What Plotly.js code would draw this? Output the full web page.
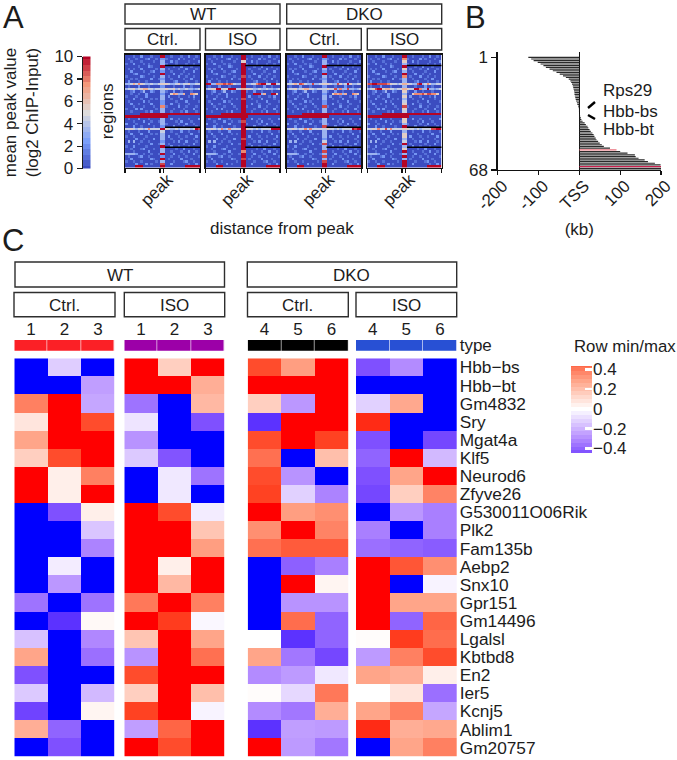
<!DOCTYPE html>
<html><head><meta charset="utf-8">
<script src="https://cdn.plot.ly/plotly-3.0.1.min.js"></script>
<style>html,body{margin:0;padding:0;background:#fff}</style></head>
<body><div id="chart" style="width:677px;height:760px"></div>
<script>
// ---------- Panel A data (digit 0-9 = mean peak value level) ----------
const regionsBase = [
"000100200010003300100010020010","010010001200103310000201000100","001000100001003300201000010002",
"100200010100003310001000100100","000001000210003300010020001000","010100200000103301000100200010",
"002000010012003300100001000200","000120000100003300020010010000","100000210001003301000200100100",
"001010000020013300100001002000","020001001000003300012000100010","000000000000000000000000000000",
"010002000100003300010002001000","000000000000000000000000000000","001200130021003310020010001000",
"000000000000000000000000000000","100010002000003302000100010200","000200100010103300100020000100",
"010000020100003300001000200001","002001000020003300200100010000","000100010001003310000200100010",
"100020200000103300010001000200","001000001020003300100010200010","000000999999999999999999999999",
"999999999999999990000000000000","010002000100003300200100010002","000100020010013300001020001000",
"200010000200003310000100200100","000200100001003300020001000010","000000000000000000000000000000",
"010001000200003300100020010001","002000200010103300001000002000","100100001000003302000100100020",
"000020010002003300100010000100","030300100100003300010200200010","000001000020013301000001000200",
"100200001000003300200100010000","001000120001003300001002000100","000100000200003300100010020010",
"333320010010013300020001000200","010001200100003300100100100001","002000000021003301000020001000",
"100100100000103300010001200100","000020002010003300200000010020","000099900000009900000000999999"];
const wtCtrlCenter  = "923393293235243233227339933329433323933929389";
const wtIsoCenter   = "995999998999969998999999998999999899997998999";
const dkoCtrlCenter = "923393293235243233228339933384333248338383899";
const dkoIsoCenter  = "975395397336365353458549955395355349359393999";
const wtCtrlRows  = {11:"334647543343344454334534453344",13:"344534566443444554453433433234",15:"001001002000004400576336007650",29:"445434434744444454334344443498"};
const wtIsoRows   = {11:"993377787874339933447899449944",13:"345599455999444455433433433234",15:"001001002000009900099936009950",29:"445434734744444454434344449999"};
const dkoCtrlRows = {11:"445648743383344454338534953344",13:"344534566443444554483733833234",15:"001001002000004400576736007650",29:"445434474744444454434344449899"};
const dkoIsoRows  = {11:"889988887544344454338934753344",13:"345899566443444554499733933234",15:"001001002000005500577786887750",29:"445474484744444454434344448899"};
const blackLineRows = [3.7, 28.4, 36.4];
const colorbarLevels = [0,0.5,1,1.5,2,2.5,3,3.5,4,4.5,5,5.5,6,6.5,7,7.5,8,8.5,9,9.5,10];

// ---------- Panel B data ----------
const rankLabels = ["1","68"];
const tssOffsets = [-125,-118,-112,-102,-95,-88,-82,-73,-65,-56,-48,-40,-33,-26,-22,-20,-18,-16,-15,-14,-13,-12,-12,-11,-10,-9,-8,-6,-5,-3,-2,-1,-1,-0.5,1,2,4,5,8,13,16,20,22,25,28,32,35,37,40,42,46,50,55,60,75,91,100,118,136,138,145,160,168,185,199,200,200,200];
const highlightRanks = {56:"#e9707c",66:"#c9204e"};
const distTicks = [-200,-100,0,100,200];
const distLabels = ["-200","-100","TSS","100","200"];

// ---------- Panel C data ----------
const genes = ["Hbb−bs","Hbb−bt","Gm4832","Sry","Mgat4a","Klf5","Neurod6","Zfyve26","G530011O06Rik","Plk2","Fam135b","Aebp2","Snx10","Gpr151","Gm14496","Lgalsl","Kbtbd8","En2","Ier5","Kcnj5","Ablim1","Gm20757"];
const wtCtrl = [[-.6,-.13,-.6],[-.6,-.6,-.25],[.38,.6,-.23],[.08,.6,.5],[.28,.6,.6],[.15,.5,.6],[.6,.05,.38],[.6,.05,.6],[-.6,-.45,.05],[-.6,-.6,-.15],[-.6,-.6,-.32],[-.6,-.05,-.6],[-.6,-.27,-.6],[-.36,-.6,-.36],[-.6,-.52,.02],[-.16,-.6,-.31],[.28,-.6,-.37],[-.45,-.6,-.6],[-.14,-.6,-.18],[-.48,-.6,.03],[.25,-.4,-.6],[-.6,-.45,-.6]];
const wtIso = [[.6,.15,.6],[.6,.6,.25],[-.36,-.6,.22],[-.07,-.6,-.45],[-.28,-.6,-.6],[-.14,-.44,-.6],[-.6,-.06,-.36],[-.6,-.06,-.6],[.6,.5,-.05],[.6,.6,.18],[.6,.6,.3],[.6,.05,.6],[.6,.22,.6],[.4,.6,.38],[.6,.53,-.02],[.18,.6,.28],[-.28,.6,.42],[.5,.6,.6],[.15,.6,.2],[.52,.6,-.03],[-.25,.45,.6],[.6,.5,.6]];
const dkoCtrl = [[.5,.3,.6],[.6,.6,.6],[.15,-.27,.6],[-.52,.6,.6],[.5,.6,.52],[.42,-.6,.2],[.5,-.28,-.6],[.52,-.12,-.32],[.6,.3,.34],[.34,.6,.37],[.42,.47,.47],[-.6,-.41,-.33],[-.6,.6,.03],[-.6,-.28,-.28],[-.6,.43,-.4],[0,-.52,-.4],[.28,-.35,-.47],[-.3,-.26,-.06],[.01,-.1,.4],[-.3,-.35,.25],[-.52,-.25,-.26],[.6,-.26,-.35]];
const dkoIso = [[-.45,-.3,-.6],[-.6,-.6,-.6],[-.12,.27,-.6],[.55,-.6,-.6],[-.45,-.6,-.47],[-.4,.6,-.18],[-.45,.28,.6],[-.47,.15,.37],[-.6,-.27,-.33],[-.33,-.6,-.33],[-.37,-.4,-.42],[.6,.48,.34],[.6,-.6,-.03],[.6,.28,.28],[.6,-.4,.45],[.01,.53,.43],[-.26,.38,.5],[.28,.25,.05],[0,.08,-.37],[.28,.38,-.23],[.55,.25,.27],[-.6,.28,.38]];
const wtSamples = ["1","2","3"];
const dkoSamples = ["4","5","6"];
const typeColors = ["#fb2026","#9c00a8","#000000","#2850d4"];
const legendLevels = [-.44,-.4,-.36,-.32,-.28,-.24,-.2,-.16,-.12,-.08,-.04,0,.04,.08,.12,.16,.2,.24,.28,.32,.36,.4,.44];
const legendTicks = [-.4,-.2,0,.2,.4];
const legendLabels = ["−0.4","−0.2","0","0.2","0.4"];

// ---------- helpers ----------
const W = 677, H = 760, FONT = '"Liberation Sans", Arial, sans-serif', INK = "#1c1c1c";
const coolwarm = [[0,"#3b4cc0"],[.25,"#7b9ff9"],[.5,"#dddcdc"],[.75,"#f4987a"],[1,"#b40426"]];
const bwr = [[0,"#0000ff"],[.0625,"#5a30ff"],[.125,"#7f50ff"],[.25,"#b38bff"],[.375,"#dac5ff"],[.5,"#ffffff"],[.625,"#ffcfc0"],[.75,"#ff9e81"],[.875,"#ff6545"],[.9375,"#ff4020"],[1,"#ff0000"]];
const layout = {width:W,height:H,margin:{l:0,r:0,t:0,b:0},paper_bgcolor:"#fff",plot_bgcolor:"#fff",showlegend:false,
  font:{family:FONT,size:17,color:INK},shapes:[],annotations:[]};
const traces = [];
let axN = 0;
function axes(x0,x1,y0,y1,xo,yo){
  axN++; const s = axN===1?"":axN;
  layout["xaxis"+s] = Object.assign({domain:[x0/W,x1/W],anchor:"y"+s,showgrid:false,zeroline:false,showticklabels:false,ticks:"",fixedrange:true},xo);
  layout["yaxis"+s] = Object.assign({domain:[1-y1/H,1-y0/H],anchor:"x"+s,showgrid:false,zeroline:false,showticklabels:false,ticks:"",fixedrange:true},yo);
  return {xaxis:"x"+s,yaxis:"y"+s};
}
function note(text,x,y,size,extra){
  layout.annotations.push(Object.assign({text,x:x/W,y:1-y/H,xref:"paper",yref:"paper",showarrow:false,xanchor:"center",yanchor:"middle",font:{size:size||17,color:INK}},extra||{}));
}
function strip(text,x0,x1,y0,y1){
  layout.shapes.push({type:"rect",xref:"paper",yref:"paper",x0:x0/W,x1:x1/W,y0:1-y0/H,y1:1-y1/H,line:{color:"#2e2e2e",width:1.4},fillcolor:"#fff"});
  note(text,(x0+x1)/2,(y0+y1)/2+0.5,17);
}

// ---------- Panel A ----------
note("A",13,17,31); note("B",475,17,31); note("C",13,240,31);
strip("WT",125,280,4,24); strip("DKO",286.7,441.7,4,24);
[["Ctrl.",125,200],["ISO",205.5,280],["Ctrl.",286.7,361.3],["ISO",367.3,441.7]].forEach(s=>strip(s[0],s[1],s[2],28.5,50));
const cb = axes(82.7,90.7,56.5,168.5,{range:[-.5,.5]},{range:[0,10],tickvals:[0,2,4,6,8,10],showticklabels:true,ticks:"outside",ticklen:5,tickwidth:1.2,tickcolor:INK,showline:true,linecolor:INK,linewidth:1,
  title:{text:"mean peak value<br>(log2 ChIP-Input)",standoff:11,font:{size:17}}});
traces.push(Object.assign({type:"heatmap",z:colorbarLevels.map(v=>[v]),y:colorbarLevels,x:[0],colorscale:coolwarm,zmin:0,zmax:10,showscale:false,hoverinfo:"skip"},cb));

const aPanels = [[125,200,wtCtrlCenter,wtCtrlRows],[205.5,280,wtIsoCenter,wtIsoRows],[286.7,361.3,dkoCtrlCenter,dkoCtrlRows],[367.3,441.7,dkoIsoCenter,dkoIsoRows]];
aPanels.forEach((p,i)=>{
  const z = regionsBase.map((row,r)=>{
    const src = p[3][r] || row;
    return src.split("").map((ch,c)=>{
      const d = (c===14||c===15) ? +p[2][r] : +ch;
      return d*10/9;
    });
  });
  const yo = {range:[44.5,-.5],showline:true,mirror:true,linecolor:"#111",linewidth:1.4};
  if(i===0) yo.title = {text:"regions",standoff:5,font:{size:17}};
  const a = axes(p[0],p[1],55,167.5,
    {range:[-.5,29.5],showline:true,mirror:true,linecolor:"#111",linewidth:1.6,ticks:"outside",ticklen:4,tickwidth:1.2,tickcolor:"#111",
     tickvals:[-.5,13.5,15,29.5],ticktext:["","","peak",""],showticklabels:true,tickangle:-45,ticklabelshift:4,tickfont:{size:17},ticklabelstandoff:-10},yo);
  traces.push(Object.assign({type:"heatmap",z,colorscale:coolwarm,zmin:0,zmax:10,showscale:false,hoverinfo:"skip"},a));
  blackLineRows.forEach(r=>traces.push(Object.assign({type:"scatter",mode:"lines",x:[15.5,29.5],y:[r,r],line:{color:"#000",width:1.6},hoverinfo:"skip"},a)));
});
note("distance from peak",282,228,17);

// ---------- Panel B ----------
const ranks = tssOffsets.map((_,i)=>i+1);
const b = axes(497.7,661,52,170,
  {range:[-200,200],tickvals:distTicks,ticktext:distLabels,showticklabels:true,ticks:"outside",ticklen:4,tickwidth:1.2,tickcolor:"#111",showline:true,linecolor:"#111",linewidth:1.3,
   tickangle:-45,ticklabelshift:5,ticklabelstandoff:-6,zeroline:true,zerolinecolor:"#111",zerolinewidth:1.4,title:{text:"(kb)",standoff:10,font:{size:17}}},
  {range:[68,-2.15],tickvals:[1,68],ticktext:rankLabels,showticklabels:true,ticks:"outside",ticklen:5,tickwidth:1.2,tickcolor:"#111",showline:true,linecolor:"#111",linewidth:1.3});
traces.push(Object.assign({type:"bar",orientation:"h",x:tssOffsets,y:ranks,width:.7,marker:{color:ranks.map(r=>highlightRanks[r]||"#2a2a2a",),line:{width:0}},hoverinfo:"skip"},b));
note("Rps29",601,91,17,{xanchor:"left"}); note("Hbb-bs",601,111,17,{xanchor:"left"}); note("Hbb-bt",601,129,17,{xanchor:"left"});
[[588,108,595,102],[588,115,595,119]].forEach(l=>layout.shapes.push({type:"line",xref:"paper",yref:"paper",x0:l[0]/W,y0:1-l[1]/H,x1:l[2]/W,y1:1-l[3]/H,line:{color:"#000",width:2.4}}));

// ---------- Panel C ----------
strip("WT",15,224.5,262,287); strip("DKO",247.3,456.7,262,287);
[["Ctrl.",14,115],["ISO",124.3,224.7],["Ctrl.",247.5,348.3],["ISO",356,456.7]].forEach(s=>strip(s[0],s[1],s[2],292.5,316.7));
const cPanels = [[14.3,114.7,wtCtrl,wtSamples,0],[124.3,224.7,wtIso,wtSamples,1],[247.7,348.3,dkoCtrl,dkoSamples,2],[356,456.7,dkoIso,dkoSamples,3]];
cPanels.forEach((p,i)=>{
  const last = i===3;
  const t = axes(p[0],p[1],340,350.7,
    {type:"category",side:"top",range:[-.5,2.5],tickvals:p[3],ticktext:p[3],showticklabels:true,tickfont:{size:17},ticklabelstandoff:1},
    last?{type:"category",side:"right",range:[-.5,.5],tickvals:["type"],ticktext:["type"],showticklabels:true,tickfont:{size:17},ticklabelstandoff:2}:{type:"category",range:[-.5,.5]});
  traces.push(Object.assign({type:"heatmap",x:p[3],y:["type"],z:[[p[4],p[4],p[4]]],zmin:0,zmax:3,xgap:.6,
    colorscale:[[0,typeColors[0]],[.33,typeColors[0]],[.33,typeColors[1]],[.5,typeColors[1]],[.5,typeColors[2]],[.8,typeColors[2]],[.8,typeColors[3]],[1,typeColors[3]]],showscale:false,hoverinfo:"skip"},t));
  const m = axes(p[0],p[1],358.3,756.7,{type:"category",range:[-.5,2.5]},
    Object.assign({type:"category",categoryorder:"array",categoryarray:genes,range:[21.5,-.5]},last?{side:"right",tickmode:"array",tickvals:genes,ticktext:genes,showticklabels:true,tickfont:{size:17.3},ticklabelstandoff:2}:{}));
  traces.push(Object.assign({type:"heatmap",x:p[3],y:genes,z:p[2],zmin:-.6,zmax:.6,colorscale:bwr,showscale:false,hoverinfo:"skip"},m));
});
const lg = axes(571,592,366,453,{range:[-.5,.5]},{side:"right",range:[-.447,.434],tickvals:legendTicks,ticktext:legendLabels,showticklabels:true,ticks:"inside",ticklen:7,tickwidth:2.4,tickcolor:"#fff",tickfont:{size:17}});
traces.push(Object.assign({type:"heatmap",x:[0],y:legendLevels,z:legendLevels.map(v=>[v]),zmin:-.6,zmax:.6,colorscale:bwr,showscale:false,hoverinfo:"skip"},lg));
note("Row min/max",625,347,16.8);

Plotly.newPlot("chart",traces,layout,{staticPlot:true,displayModeBar:false});
</script></body></html>
